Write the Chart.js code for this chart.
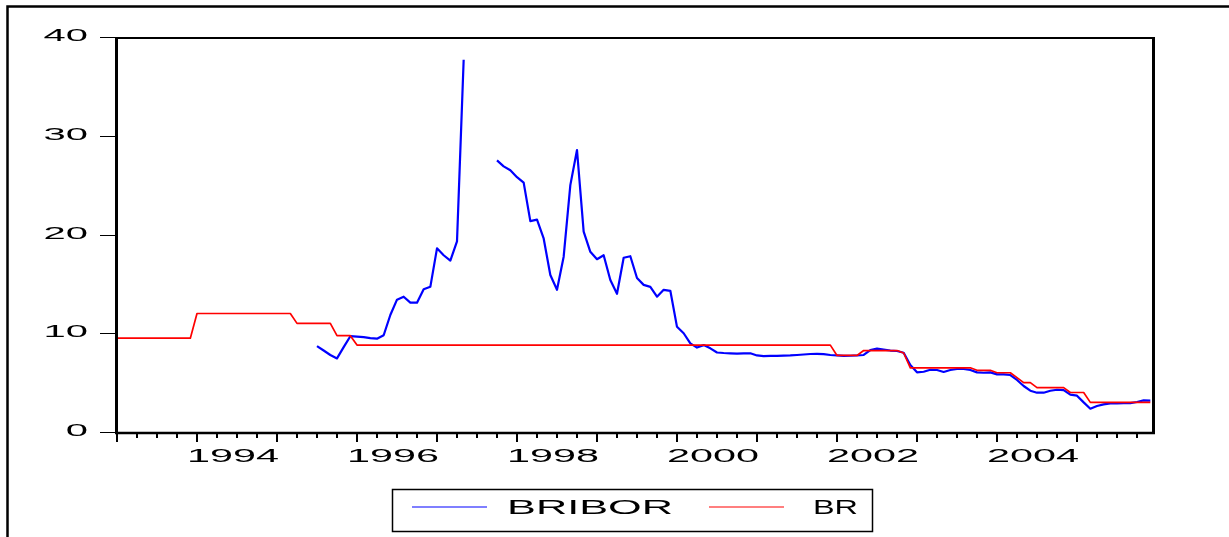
<!DOCTYPE html>
<html>
<head>
<meta charset="utf-8">
<script src="https://cdn.jsdelivr.net/npm/chart.js@4.4.1/dist/chart.umd.min.js"></script>
<style>
html, body { margin: 0; padding: 0; background: #fff; }
#grafico { display: block; }
</style>
</head>
<body>
<canvas id="grafico" width="1229" height="537"></canvas>
<script>
// datos mensuales desde 1993M01
const inicio = 1993;

const br = [
  9.5, 9.5, 9.5, 9.5, 9.5, 9.5, 9.5, 9.5, 9.5, 9.5, 9.5, 9.5,
  12, 12, 12, 12, 12, 12, 12, 12, 12, 12, 12, 12,
  12, 12, 12, 11, 11, 11, 11, 11, 11, 9.75, 9.75, 9.75,
  8.8, 8.8, 8.8, 8.8, 8.8, 8.8, 8.8, 8.8, 8.8, 8.8, 8.8, 8.8,
  8.8, 8.8, 8.8, 8.8, 8.8, 8.8, 8.8, 8.8, 8.8, 8.8, 8.8, 8.8,
  8.8, 8.8, 8.8, 8.8, 8.8, 8.8, 8.8, 8.8, 8.8, 8.8, 8.8, 8.8,
  8.8, 8.8, 8.8, 8.8, 8.8, 8.8, 8.8, 8.8, 8.8, 8.8, 8.8, 8.8,
  8.8, 8.8, 8.8, 8.8, 8.8, 8.8, 8.8, 8.8, 8.8, 8.8, 8.8, 8.8,
  8.8, 8.8, 8.8, 8.8, 8.8, 8.8, 8.8, 8.8, 8.8, 8.8, 8.8, 8.8,
  7.75, 7.75, 7.75, 7.75, 8.25, 8.25, 8.25, 8.25, 8.25, 8.25, 8.0, 6.5,
  6.5, 6.5, 6.5, 6.5, 6.5, 6.5, 6.5, 6.5, 6.5, 6.25, 6.25, 6.25,
  6.0, 6.0, 6.0, 5.5, 5.0, 5.0, 4.5, 4.5, 4.5, 4.5, 4.5, 4.0,
  4.0, 4.0, 3.0, 3.0, 3.0, 3.0, 3.0, 3.0, 3.0, 3.0, 3.0, 3.0
];

const bribor = [
  null, null, null, null, null, null, null, null, null, null, null, null,
  null, null, null, null, null, null, null, null, null, null, null, null,
  null, null, null, null, null, null, 8.7, 8.25, 7.8, 7.45, 8.6, 9.7,
  9.65, 9.6, 9.5, 9.45, 9.8, 11.85, 13.4, 13.7, 13.1, 13.1, 14.45, 14.7,
  18.6, 17.9, 17.35, 19.3, 37.7, null, null, null, null, 27.5, 26.9, 26.5,
  25.8, 25.25, 21.35, 21.5, 19.6, 15.9, 14.4, 17.75, 25.0, 28.55, 20.3, 18.25,
  17.5, 17.9, 15.4, 14.0, 17.65, 17.8, 15.6, 14.9, 14.7, 13.7, 14.4, 14.3,
  10.65, 10.0, 8.98, 8.55, 8.8, 8.47, 8.05, 8.0, 7.97, 7.93, 7.97, 7.97,
  7.75, 7.68, 7.7, 7.7, 7.73, 7.75, 7.8, 7.85, 7.9, 7.92, 7.88, 7.8,
  7.75, 7.7, 7.72, 7.75, 7.8, 8.3, 8.44, 8.35, 8.25, 8.2, 8.03, 6.78,
  6.04, 6.1, 6.3, 6.28, 6.08, 6.28, 6.38, 6.38, 6.28, 6.04, 6.0, 6.04,
  5.84, 5.84, 5.77, 5.27, 4.66, 4.18, 3.98, 3.98, 4.18, 4.28, 4.25, 3.78,
  3.68, 3.0, 2.36, 2.63, 2.8, 2.9, 2.9, 2.92, 2.93, 3.04, 3.2, 3.17
];

const nombres = ['BRIBOR', 'BR'];
const colores = ['#0000ff', '#ff0000'];
const etiquetasX = ['1994', '1996', '1998', '2000', '2002', '2004'];
const valoresY = [0, 10, 20, 30, 40];

const puntos = (serie) => serie.map((v, i) => ({ x: inicio + i / 12, y: v }));

// texto ensanchado a lo horizontal, como en EViews
function texto(ctx, s, x, y, k, align) {
  ctx.save();
  ctx.translate(x, y);
  ctx.scale(k, 1);
  ctx.textAlign = align;
  ctx.fillText(s, 0, 0);
  ctx.restore();
}

const marco = {
  id: 'marco',
  beforeDraw(chart) {
    const ctx = chart.ctx;
    ctx.save();
    ctx.fillStyle = '#fff';
    ctx.fillRect(0, 0, chart.width, chart.height);
    // borde exterior
    ctx.strokeStyle = '#000';
    ctx.lineWidth = 2.5;
    ctx.beginPath();
    ctx.moveTo(7.5, chart.height);
    ctx.lineTo(7.5, 6.5);
    ctx.lineTo(chart.width, 6.5);
    ctx.stroke();
    ctx.restore();
  },
  afterDraw(chart) {
    const { ctx, chartArea: a, scales: { x, y } } = chart;
    ctx.save();
    ctx.strokeStyle = '#000';
    ctx.fillStyle = '#000';

    // recuadro del grafico
    ctx.lineWidth = 2;
    ctx.beginPath();
    ctx.moveTo(a.left, a.top + 1);
    ctx.lineTo(a.right, a.top + 1);
    ctx.stroke();
    ctx.lineWidth = 3;
    ctx.beginPath();
    ctx.moveTo(a.right + 0.5, a.top);
    ctx.lineTo(a.right + 0.5, a.bottom + 2);
    ctx.stroke();
    ctx.beginPath();
    ctx.moveTo(a.left - 0.5, a.top);
    ctx.lineTo(a.left - 0.5, a.bottom + 2);
    ctx.stroke();
    ctx.lineWidth = 2.5;
    ctx.beginPath();
    ctx.moveTo(a.left - 2, a.bottom + 1);
    ctx.lineTo(a.right + 2, a.bottom + 1);
    ctx.stroke();

    // eje Y
    ctx.font = '17px "Liberation Sans", Arial, sans-serif';
    ctx.lineWidth = 1;
    valoresY.forEach((v) => {
      const py = Math.round(y.getPixelForValue(v)) + 0.5;
      ctx.beginPath();
      ctx.moveTo(a.left - 17, py);
      ctx.lineTo(a.left, py);
      ctx.stroke();
      texto(ctx, String(v), a.left - 29, py + 3.5, 2.35, 'right');
    });

    // eje X: marcas trimestrales, mas largas en cada año
    ctx.lineWidth = 2;
    for (let q = 0; inicio + q / 4 <= x.max + 1e-6; q++) {
      const px = Math.round(x.getPixelForValue(inicio + q / 4));
      const largo = q % 4 === 0 ? 10 : 6;
      ctx.beginPath();
      ctx.moveTo(px, a.bottom);
      ctx.lineTo(px, a.bottom + largo);
      ctx.stroke();
    }
    ctx.font = '18px "Liberation Sans", Arial, sans-serif';
    etiquetasX.forEach((e) => {
      const px = x.getPixelForValue(Number(e) + 0.5) - 4;
      texto(ctx, e, px, 462, 2.3, 'center');
    });

    // leyenda
    ctx.lineWidth = 1.5;
    ctx.strokeRect(392.5, 489.5, 480, 42);
    ctx.font = '21px "Liberation Sans", Arial, sans-serif';
    const pos = [
      { l0: 412, l1: 487, t: 507, w: 166 },
      { l0: 709, l1: 784, t: 813, w: 45 }
    ];
    chart.data.datasets.forEach((ds, i) => {
      const p = pos[i];
      ctx.strokeStyle = ds.borderColor;
      ctx.lineWidth = 1.2;
      ctx.beginPath();
      ctx.moveTo(p.l0, 507);
      ctx.lineTo(p.l1, 507);
      ctx.stroke();
      const k = p.w / ctx.measureText(ds.label).width;
      texto(ctx, ds.label, p.t, 514, k, 'left');
    });
    ctx.restore();
  }
};

new Chart(document.getElementById('grafico'), {
  type: 'line',
  data: {
    datasets: [
      {
        label: nombres[0],
        data: puntos(bribor),
        borderColor: colores[0],
        borderWidth: 2.2,
        pointRadius: 0,
        spanGaps: false,
        order: 1
      },
      {
        label: nombres[1],
        data: puntos(br),
        borderColor: colores[1],
        borderWidth: 1.7,
        pointRadius: 0,
        order: 0
      }
    ]
  },
  options: {
    responsive: false,
    animation: false,
    devicePixelRatio: 1,
    layout: { padding: { left: 0, top: 37, right: 76, bottom: 0 } },
    plugins: { legend: { display: false }, tooltip: { enabled: false } },
    elements: { line: { tension: 0, borderJoinStyle: 'round' } },
    scales: {
      x: {
        type: 'linear',
        min: 1993,
        max: 2005.95,
        ticks: { display: false },
        grid: { display: false },
        border: { display: false },
        afterFit: (s) => { s.height = 105; }
      },
      y: {
        min: 0,
        max: 40,
        ticks: { display: false },
        grid: { display: false },
        border: { display: false },
        afterFit: (s) => { s.width = 117; }
      }
    }
  },
  plugins: [marco]
});
</script>
</body>
</html>
